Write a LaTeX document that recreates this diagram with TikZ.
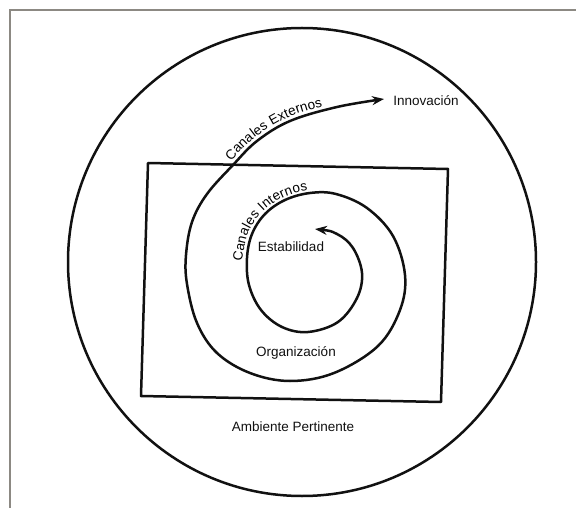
\documentclass[tikz,border=0pt]{standalone}
\usepackage{fontspec}
\setmainfont{Liberation Sans}
\usepackage{xcolor}
\usetikzlibrary{arrows.meta, decorations.text}
\definecolor{cFrame}{HTML}{8C8983}
\definecolor{cInk}{HTML}{111111}

\begin{document}
\begin{tikzpicture}[x=1pt, y=-1pt,
  ink/.style={draw=cInk, line width=2.5pt, line join=round},
  frame/.style={draw=cFrame, line width=1.6pt},
  lbl/.style={font=\fontsize{13.5}{16}\selectfont, text=cInk, inner sep=0pt},
  spiral/.style={ink, {Stealth[length=12pt, width=9pt]}-{Stealth[length=12pt, width=9pt]}},
  along/.style={decorate, decoration={text along path, text align=left, raise=#1,
                text={|\fontsize{13.5}{16}\selectfont|Canales Externos}}},
  alongin/.style={decorate, decoration={text along path, text align=left, raise=#1,
                text={|\fontsize{13.5}{16}\selectfont|Canales Internos}}}]
\useasboundingbox (0,0) rectangle (576,508);
\draw[frame] (10,508) -- (10,10) -- (576,10);
% ambiente
\node[circle, ink, minimum size=468pt, inner sep=0pt] (amb) at (302,262) {};
% organizacion (caja)
\coordinate (tl) at (148,163);
\coordinate (tr) at (448,169);
\coordinate (br) at (441,402);
\coordinate (bl) at (141,396);
\draw[ink] (tl) -- (tr) -- (br) -- (bl) -- cycle;
% espiral
\coordinate (est) at (315,229);
\coordinate (inn) at (384,99);
\draw[spiral] plot[smooth, tension=0.6] coordinates {(est) (337,234) (353,248) (362,273)
  (357,298) (338,322) (308,332) (282,327) (261,310) (249,285) (247,258) (252,234)
  (265,214) (285,200) (310,193) (336,194) (367,208) (393,236) (405,275) (400,310)
  (378,346) (334,373) (290,381) (250,373) (217,353) (197,323) (187,284) (186,255)
  (192,222) (207,194) (233,165) (257,141) (290,121) (337,107) (inn)};
\path[along=4pt] plot[smooth, tension=0.6] coordinates {(234,164) (257,141) (290,121) (337,107) (384,99)};
\path[alongin=3pt] plot[smooth, tension=0.6] coordinates {(245,262) (251,234) (265,214) (285,200) (310,193) (336,194)};
% textos
\node[lbl] (tInn) at (426,101) {Innovación};
\node[lbl] (tEst) at (291,247) {Estabilidad};
\node[lbl] (tOrg) at (296,353) {Organización};
\node[lbl] (tAmb) at (293,427) {Ambiente Pertinente};
\end{tikzpicture}
\end{document}
